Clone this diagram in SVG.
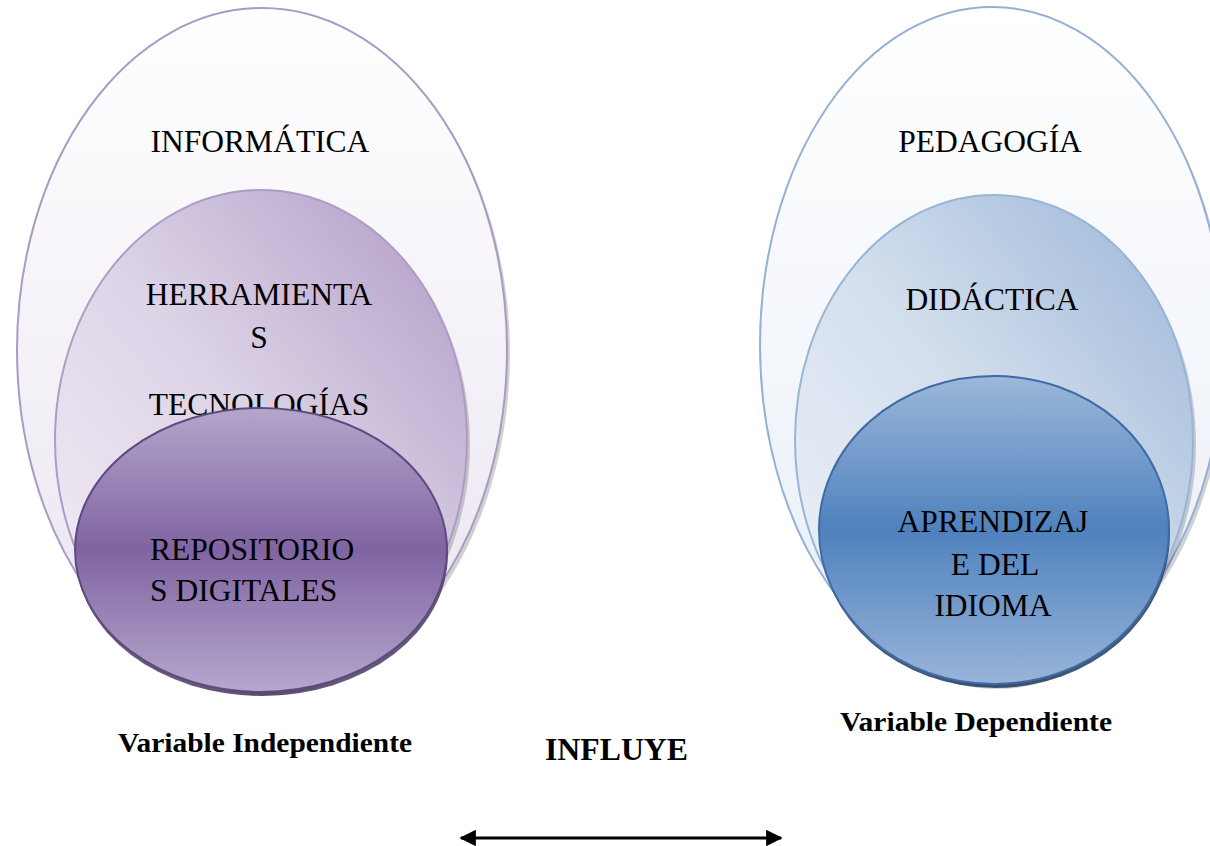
<svg xmlns="http://www.w3.org/2000/svg" width="1210" height="846" viewBox="0 0 1210 846">
<defs>
<linearGradient id="pOuter" x1="0" y1="0" x2="0" y2="1"><stop offset="0" stop-color="#ffffff"/><stop offset="1" stop-color="#e9e4f0"/></linearGradient>
<linearGradient id="pMid" x1="0.1" y1="0.9" x2="0.9" y2="0.1"><stop offset="0" stop-color="#efebf4"/><stop offset="0.5" stop-color="#ddd4e7"/><stop offset="1" stop-color="#b7a5cb"/></linearGradient>
<linearGradient id="pIn" x1="0" y1="0" x2="0" y2="1"><stop offset="0" stop-color="#b4a6cb"/><stop offset="0.5" stop-color="#8064a2"/><stop offset="1" stop-color="#b6a8cd"/></linearGradient>
<linearGradient id="bOuter" x1="0" y1="0" x2="0" y2="1"><stop offset="0" stop-color="#ffffff"/><stop offset="1" stop-color="#e8eef7"/></linearGradient>
<linearGradient id="bMid" x1="0.1" y1="0.9" x2="0.9" y2="0.1"><stop offset="0" stop-color="#e9eff7"/><stop offset="0.5" stop-color="#d4dfed"/><stop offset="1" stop-color="#a5bddc"/></linearGradient>
<linearGradient id="bIn" x1="0" y1="0" x2="0" y2="1"><stop offset="0" stop-color="#9cb7da"/><stop offset="0.5" stop-color="#4f81bd"/><stop offset="1" stop-color="#98b5d9"/></linearGradient>
<marker id="ah" viewBox="0 0 10 10" refX="9" refY="5" markerWidth="5.5" markerHeight="5.5" orient="auto-start-reverse" markerUnits="strokeWidth"><path d="M0,0 L10,5 L0,10 z" fill="#000"/></marker>
</defs>
<style>
.t{font-family:"Liberation Serif","Times New Roman",serif;font-size:31.5px;fill:#000;}
.b{font-family:"Liberation Serif","Times New Roman",serif;font-weight:bold;fill:#000;}
.sh{fill:#000;opacity:0.18;}
</style>

<g id="informatica">
<ellipse class="sh" cx="265" cy="354" rx="245" ry="342"/>
<ellipse cx="262" cy="350" rx="245" ry="342" fill="url(#pOuter)" stroke="#a99bc3" stroke-width="2"/>
<text class="t" x="260" y="152" text-anchor="middle">INFORMÁTICA</text>
</g>

<g id="herramientas">
<ellipse class="sh" cx="264" cy="444" rx="206" ry="250"/>
<ellipse cx="261" cy="440" rx="206" ry="250" fill="url(#pMid)" stroke="#ac9dc6" stroke-width="2"/>
<text class="t" x="259" y="305" text-anchor="middle">HERRAMIENTA</text>
<text class="t" x="259" y="348" text-anchor="middle">S</text>
<text class="t" x="259" y="415" text-anchor="middle">TECNOLOGÍAS</text>
</g>

<g id="repositorios">
<ellipse cx="262" cy="554" rx="186" ry="142" fill="#3f2f57" opacity="0.8"/>
<ellipse cx="261" cy="550" rx="186" ry="142" fill="url(#pIn)" stroke="#5f4a80" stroke-width="2"/>
<text class="t" x="150" y="560">REPOSITORIO</text>
<text class="t" x="150" y="601">S DIGITALES</text>
</g>

<g id="pedagogia">
<ellipse class="sh" cx="995" cy="349" rx="232" ry="338"/>
<ellipse cx="992" cy="345" rx="232" ry="338" fill="url(#bOuter)" stroke="#94b1d5" stroke-width="2"/>
<text class="t" x="990" y="152" text-anchor="middle">PEDAGOGÍA</text>
</g>

<g id="didactica">
<ellipse class="sh" cx="997" cy="444" rx="199" ry="245"/>
<ellipse cx="994" cy="440" rx="199" ry="245" fill="url(#bMid)" stroke="#98b4d7" stroke-width="2"/>
<text class="t" x="992" y="310" text-anchor="middle">DIDÁCTICA</text>
</g>

<g id="aprendizaje">
<ellipse cx="995" cy="534" rx="175" ry="154" fill="#243d5e" opacity="0.85"/>
<ellipse cx="994" cy="530" rx="175" ry="154" fill="url(#bIn)" stroke="#3f6aa5" stroke-width="2"/>
<text class="t" x="993" y="532" text-anchor="middle">APRENDIZAJ</text>
<text class="t" x="995" y="575" text-anchor="middle">E DEL</text>
<text class="t" x="993" y="616" text-anchor="middle">IDIOMA</text>
</g>

<g id="labels">
<text class="b" x="118" y="752" font-size="28" textLength="294" lengthAdjust="spacingAndGlyphs">Variable Independiente</text>
<text class="b" x="840" y="731" font-size="28" textLength="272" lengthAdjust="spacingAndGlyphs">Variable Dependiente</text>
<text class="b" x="545" y="760" font-size="32" textLength="143" lengthAdjust="spacingAndGlyphs">INFLUYE</text>
</g>

<g id="connectors">
<line x1="461" y1="838" x2="781" y2="838" stroke="#000" stroke-width="3" marker-start="url(#ah)" marker-end="url(#ah)"/>
</g>
</svg>
